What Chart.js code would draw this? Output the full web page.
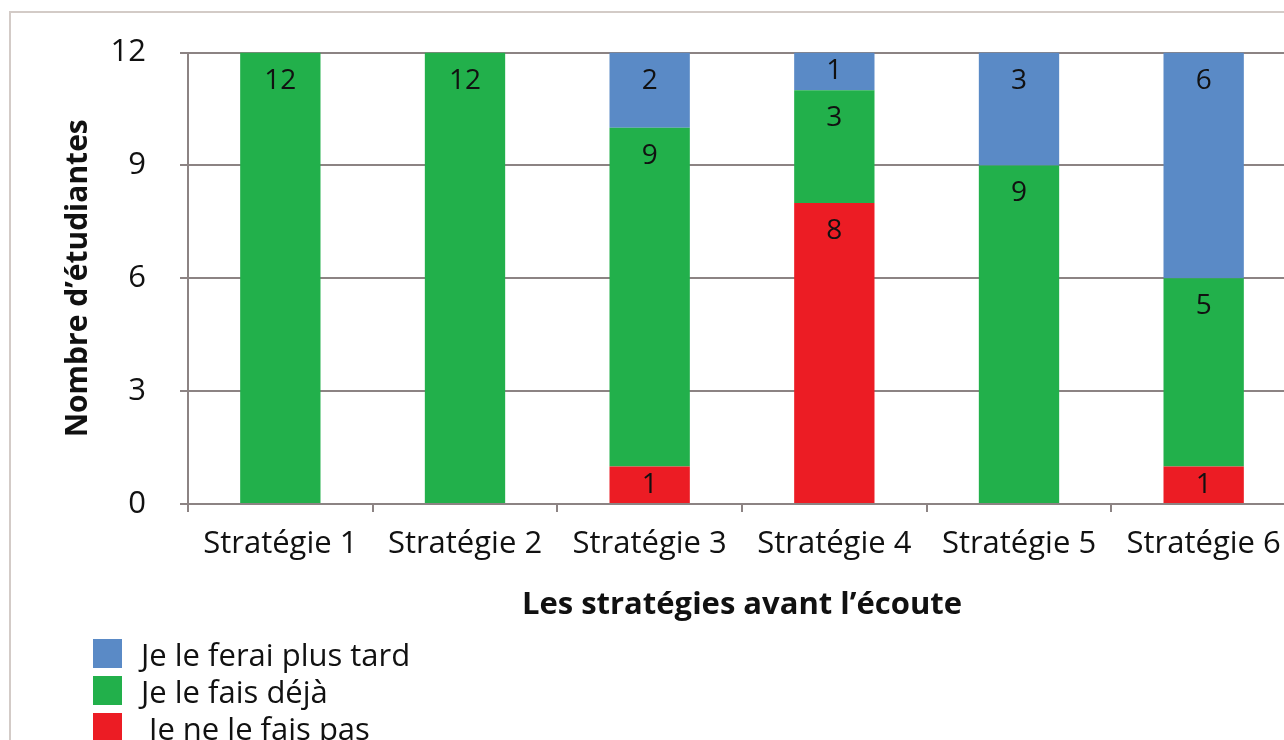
<!DOCTYPE html>
<html>
<head>
<meta charset="utf-8">
<script src="https://cdn.jsdelivr.net/npm/chart.js@4.4.1/dist/chart.umd.min.js"></script>
<style>
  html, body { margin: 0; padding: 0; background: #fff; overflow: hidden; }
  #wrap { position: relative; width: 1284px; height: 740px; overflow: hidden; }
  #frame { position: absolute; left: 9px; top: 11px; width: 1400px; height: 800px;
           border-top: 2px solid #d3cbc7; border-left: 2px solid #d3cbc7; }
  #chart { position: absolute; left: 0; top: 0; }
  #legend { position: absolute; left: 93px; top: 635px; font-family: "Open Sans", sans-serif;
            font-size: 31px; color: #111; }
  .item { height: 37px; display: flex; align-items: center; white-space: pre; }
  .box { width: 29px; height: 29px; margin-right: 19px; flex: none; }
</style>
</head>
<body>
<div id="wrap">
  <div id="frame"></div>
  <canvas id="chart" width="1300" height="740"></canvas>
  <div id="legend"></div>
</div>
<script>
// categories et valeurs (nombre d'étudiantes)
const categories = ["Stratégie 1", "Stratégie 2", "Stratégie 3", "Stratégie 4", "Stratégie 5", "Stratégie 6"];
const seriesNames = [" Je ne le fais pas", "Je le fais déjà", "Je le ferai plus tard"];
const nePasValues = [0, 0, 1, 8, 0, 1];
const dejaValues = [12, 12, 9, 3, 9, 5];
const plusTardValues = [0, 0, 2, 1, 3, 6];
const yTicks = [0, 3, 6, 9, 12];

const colors = ['#ec1c24', '#22b04b', '#5a8ac6'];
const fontFamily = '"Open Sans", sans-serif';

// étiquettes de valeurs dans les barres
const valueLabels = {
    id: 'valueLabels',
    afterDatasetsDraw(chart) {
        const ctx = chart.ctx;
        ctx.save();
        ctx.font = '28px ' + fontFamily;
        ctx.fillStyle = '#111';
        ctx.textAlign = 'center';
        ctx.textBaseline = 'middle';
        chart.data.datasets.forEach(function (ds, i) {
            chart.getDatasetMeta(i).data.forEach(function (bar, j) {
                const v = ds.data[j];
                if (!v) return;
                const top = Math.min(bar.y, bar.base);
                const bottom = Math.max(bar.y, bar.base);
                const y = Math.min(top + 28, (top + bottom) / 2);
                ctx.fillText(String(v), bar.x, y);
            });
        });
        ctx.restore();
    }
};

const data = {
    labels: categories,
    datasets: [
        { label: seriesNames[0], data: nePasValues, backgroundColor: colors[0] },
        { label: seriesNames[1], data: dejaValues, backgroundColor: colors[1] },
        { label: seriesNames[2], data: plusTardValues, backgroundColor: colors[2] }
    ]
};

const gridColor = '#8c8383';

const config = {
    type: 'bar',
    data: data,
    options: {
        responsive: false,
        animation: false,
        layout: { padding: { left: 0, right: 4, top: 44, bottom: 96 } },
        datasets: { bar: { barPercentage: 0.435, categoryPercentage: 1 } },
        plugins: { legend: { display: false }, tooltip: { enabled: false } },
        scales: {
            x: {
                stacked: true,
                afterFit: function (scale) { scale.height = 140; },
                grid: { drawOnChartArea: false, drawTicks: true, tickLength: 8, color: gridColor, lineWidth: 2 },
                border: { color: gridColor, width: 2 },
                ticks: { color: '#111', padding: 14, font: { family: fontFamily, size: 31 } },
                title: { display: true, text: "Les stratégies avant l’écoute", color: '#111',
                         padding: { top: 0, bottom: 20 }, font: { family: fontFamily, size: 31, weight: 'bold' } }
            },
            y: {
                stacked: true,
                min: 0,
                max: 12,
                afterFit: function (scale) { scale.width = 188; },
                afterBuildTicks: function (scale) { scale.ticks = yTicks.map(function (v) { return { value: v }; }); },
                grid: { color: gridColor, lineWidth: 2, tickLength: 8 },
                border: { color: gridColor, width: 2 },
                ticks: { color: '#111', padding: 34, font: { family: fontFamily, size: 31 } },
                title: { display: true, text: "Nombre d’étudiantes", color: '#111',
                         padding: { top: 60, bottom: 0 }, font: { family: fontFamily, size: 30, weight: 'bold' } }
            }
        }
    },
    plugins: [valueLabels]
};

const chart = new Chart(document.getElementById('chart'), config);

// légende verticale en bas à gauche (ordre inversé comme dans la pile)
let legendHtml = "";
for (let i = chart.data.datasets.length - 1; i >= 0; i--) {
    const ds = chart.data.datasets[i];
    legendHtml += "<div class='item'><span class='box' style='background:" + ds.backgroundColor + "'></span>" + ds.label + "</div>";
}
document.getElementById('legend').innerHTML = legendHtml;
</script>
</body>
</html>
